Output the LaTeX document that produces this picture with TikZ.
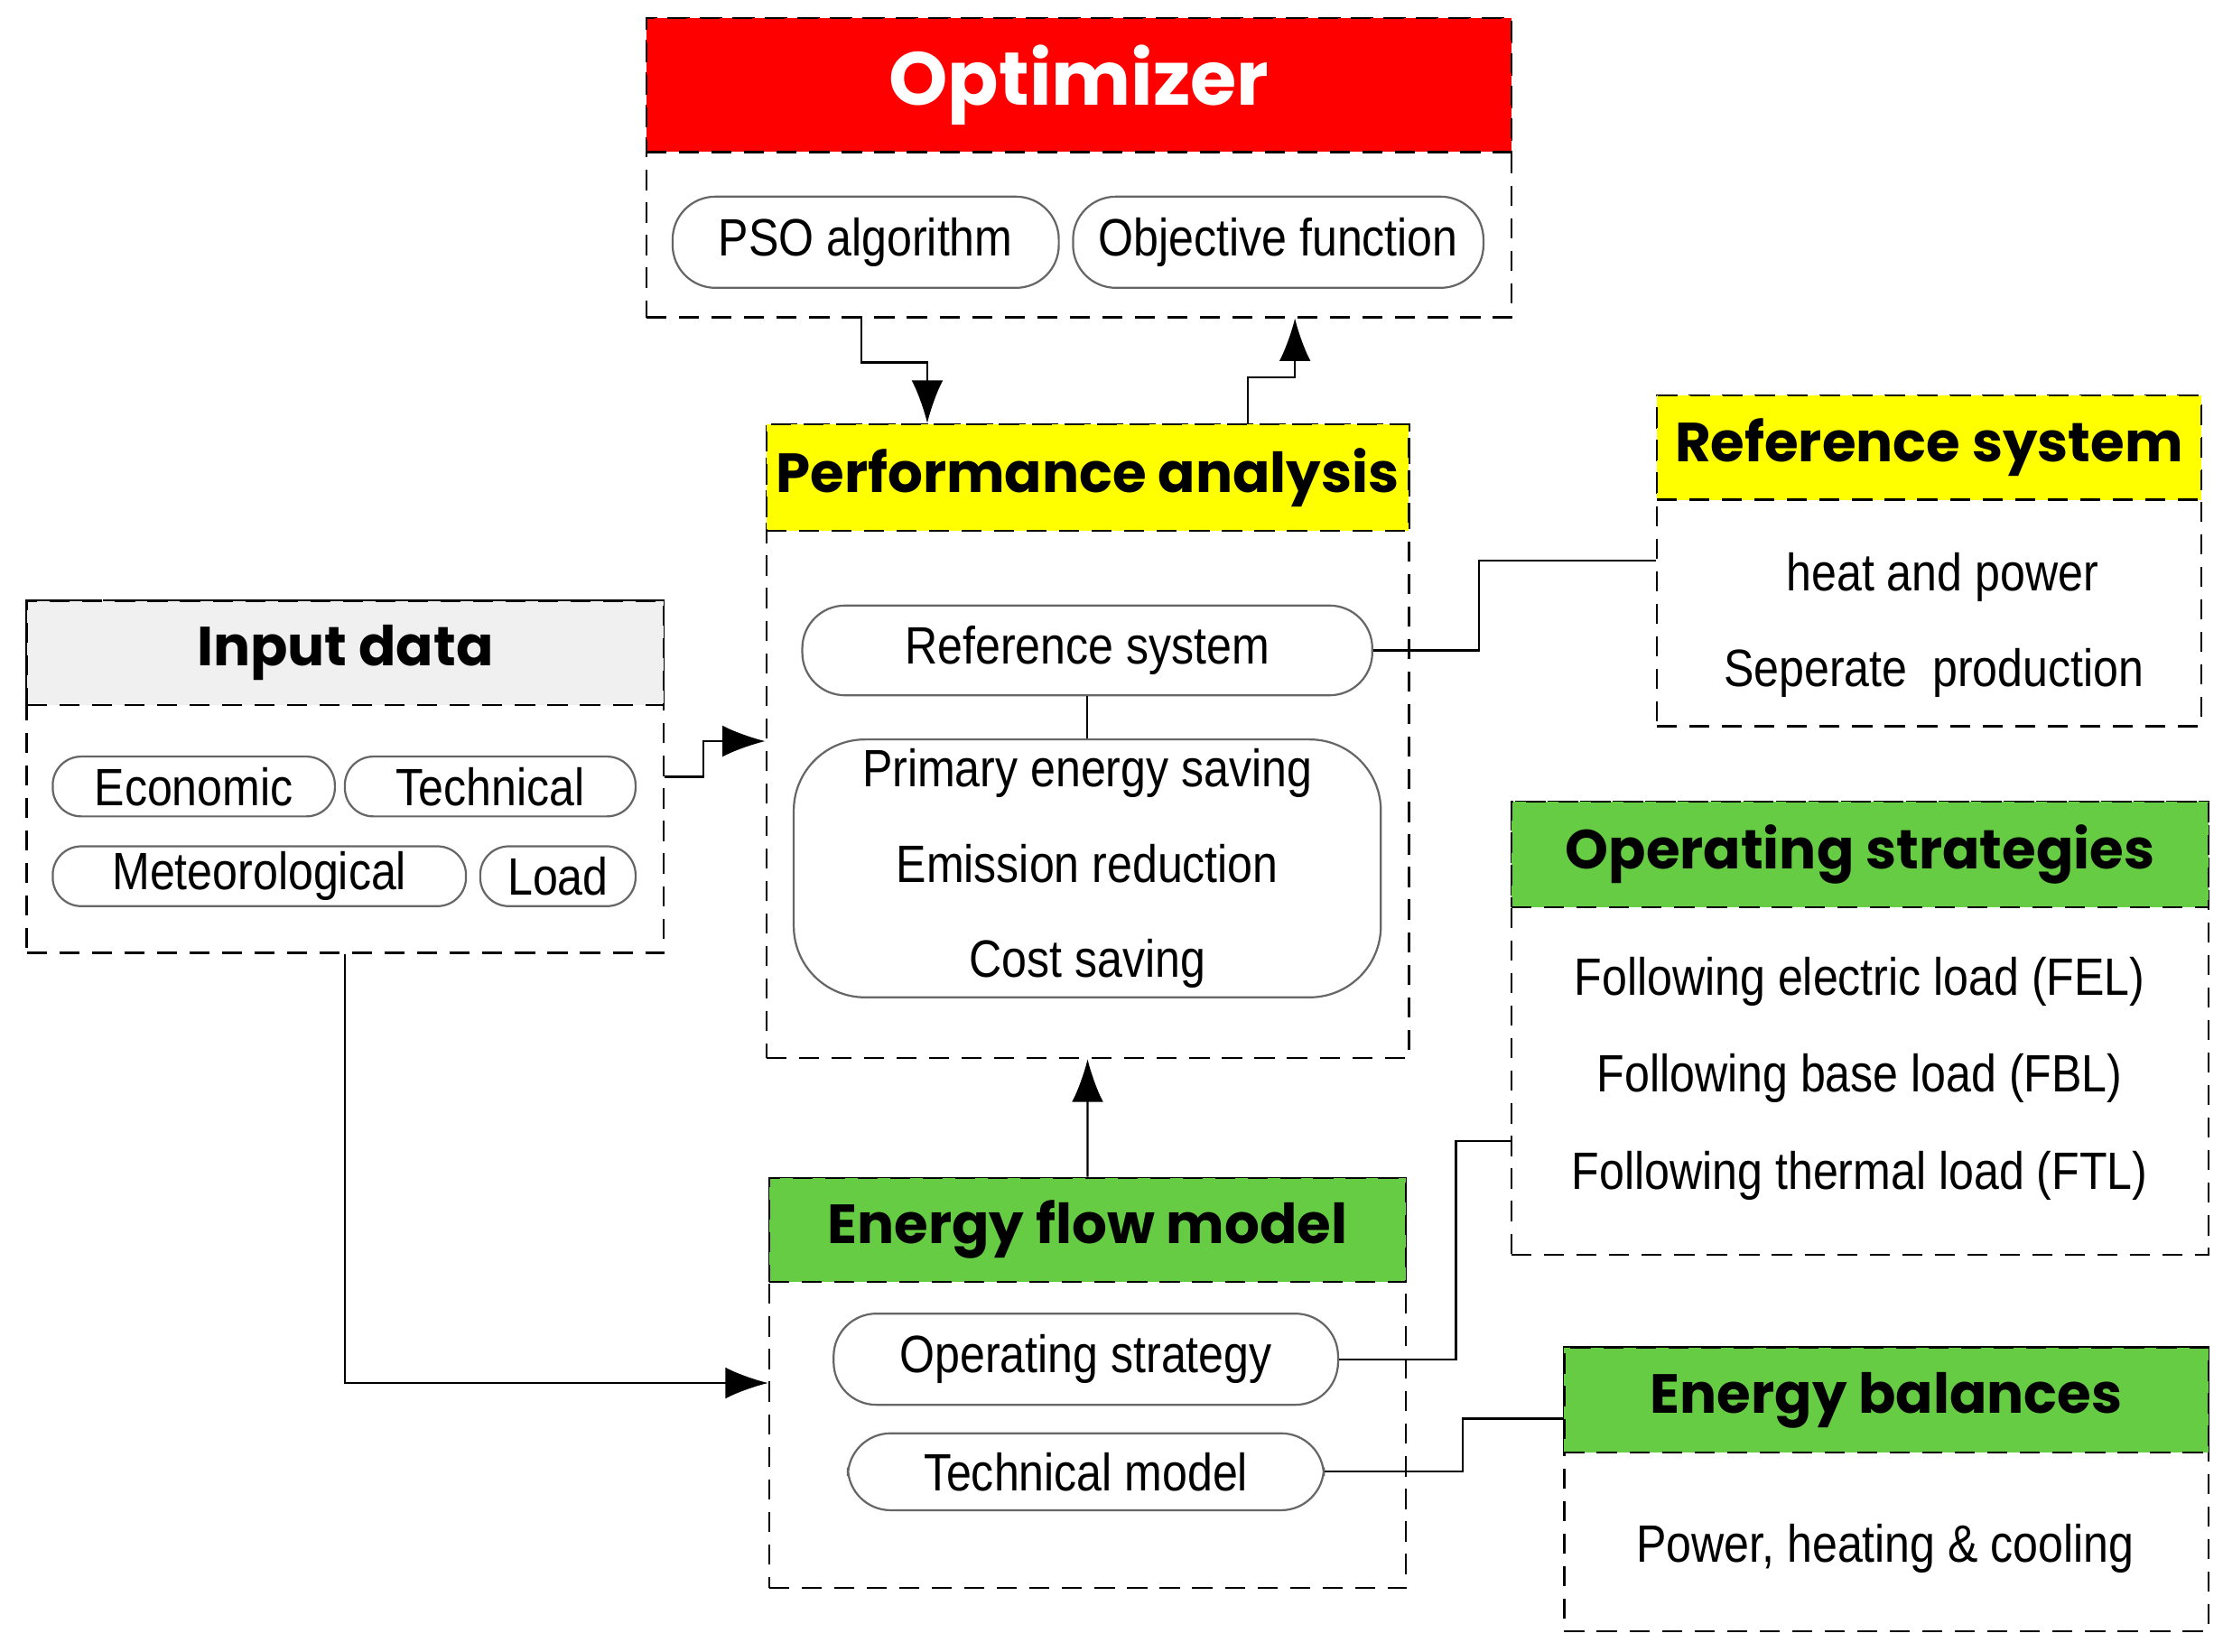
\documentclass[tikz,border=0pt]{standalone}
\usepackage{fontspec}
\setmainfont{Liberation Sans}[FakeStretch=0.86]
\newfontfamily\headfont{Poppins}[UprightFont=* Bold]
\usetikzlibrary{arrows.meta}
\definecolor{optred}{RGB}{255,0,0}
\definecolor{hyellow}{RGB}{255,255,0}
\definecolor{hgreen}{RGB}{102,204,68}
\tikzset{
  frame/.style={draw, dashed, dash pattern=on 4pt off 2.5pt, thin, inner sep=0, anchor=north west},
  head/.style={frame, font=\headfont\fontsize{11}{12}\selectfont},
  pill/.style={draw=black!60, thin, rounded corners=0.3cm, inner sep=0, font=\fontsize{10.5}{12}\selectfont},
  txt/.style={font=\fontsize{10.5}{12}\selectfont},
  link/.style={thin},
  arr/.style={thin, -{Latex[length=0.3cm, width=0.22cm]}}
}
\begin{document}
\begin{tikzpicture}
\useasboundingbox (0,0) rectangle (15.6,-11.59);
% optimizer
\node[frame, minimum width=6.07cm, minimum height=2.10cm] (opt) at (4.53,-0.12) {};
\node[head, fill=optred, text=white, minimum width=6.07cm, minimum height=0.94cm, font=\headfont\fontsize{15}{16}\selectfont] (optH) at (4.53,-0.12) {Optimizer};
\node[pill, minimum width=2.71cm, minimum height=0.64cm] (pso) at (6.075,-1.70) {PSO algorithm};
\node[pill, minimum width=2.88cm, minimum height=0.64cm] (obj) at (8.97,-1.70) {Objective function};
% performance analysis
\node[frame, minimum width=4.51cm, minimum height=4.45cm] (perf) at (5.37,-2.97) {};
\node[head, fill=hyellow, minimum width=4.51cm, minimum height=0.75cm] (perfH) at (5.37,-2.97) {Performance analysis};
\node[pill, minimum width=4.0cm, minimum height=0.63cm] (refpill) at (7.63,-4.565) {Reference system};
\node[pill, rounded corners=0.5cm, minimum width=4.12cm, minimum height=1.81cm, align=center, font=\fontsize{10.5}{19}\selectfont] (saving) at (7.63,-6.095) {Primary energy saving\\Emission reduction\\Cost saving};
% reference system
\node[frame, minimum width=3.82cm, minimum height=2.32cm] (refsys) at (11.62,-2.77) {};
\node[head, fill=hyellow, minimum width=3.82cm, minimum height=0.73cm] (refsysH) at (11.62,-2.77) {Reference system};
\node[txt] (heat) at (13.63,-4.05) {heat and power};
\node[txt] (sep) at (13.57,-4.72) {Seperate~~production};
% input data
\node[frame, minimum width=4.47cm, minimum height=2.47cm] (input) at (0.18,-4.21) {};
\node[head, fill=black!6, minimum width=4.47cm, minimum height=0.73cm] (inputH) at (0.18,-4.21) {Input data};
\node[pill, rounded corners=0.2cm, minimum width=1.98cm, minimum height=0.42cm] (eco) at (1.36,-5.52) {Economic};
\node[pill, rounded corners=0.2cm, minimum width=2.04cm, minimum height=0.42cm] (tech) at (3.44,-5.52) {Technical};
\node[pill, rounded corners=0.2cm, minimum width=2.90cm, minimum height=0.42cm] (met) at (1.82,-6.15) {Meteorological};
\node[pill, rounded corners=0.2cm, minimum width=1.09cm, minimum height=0.42cm] (load) at (3.915,-6.15) {Load};
% operating strategies
\node[frame, minimum width=4.89cm, minimum height=3.18cm] (ops) at (10.60,-5.62) {};
\node[head, fill=hgreen, minimum width=4.89cm, minimum height=0.74cm] (opsH) at (10.60,-5.62) {Operating strategies};
\node[txt] (fel) at (13.05,-6.89) {Following electric load (FEL)};
\node[txt] (fbl) at (13.05,-7.57) {Following base load (FBL)};
\node[txt] (ftl) at (13.05,-8.25) {Following thermal load (FTL)};
% energy flow model
\node[frame, minimum width=4.47cm, minimum height=2.88cm] (efm) at (5.39,-8.26) {};
\node[head, fill=hgreen, minimum width=4.47cm, minimum height=0.73cm] (efmH) at (5.39,-8.26) {Energy flow model};
\node[pill, minimum width=3.54cm, minimum height=0.64cm] (opstr) at (7.62,-9.54) {Operating strategy};
\node[pill, minimum width=3.34cm, minimum height=0.54cm] (techm) at (7.62,-10.33) {Technical model};
% energy balances
\node[frame, minimum width=4.52cm, minimum height=1.99cm] (eb) at (10.97,-9.45) {};
\node[head, fill=hgreen, minimum width=4.52cm, minimum height=0.74cm] (ebH) at (10.97,-9.45) {Energy balances};
\node[txt] (phc) at (13.23,-10.87) {Power, heating \& cooling};
% connectors
\draw[arr] ([xshift=-1.525cm]opt.south) -- ++(0,-0.31) -| ([xshift=-1.125cm]perf.north);
\draw[arr] ([xshift=1.125cm]perf.north) -- ++(0,0.32) -| ([xshift=1.515cm]opt.south);
\draw[link] (refpill.south) -- (saving.north);
\draw[link] (refpill.east) -- ++(0.74,0) |- (refsys.west);
\draw[arr] (input.east) -- ++(0.27,0) |- (perf.west);
\draw[arr] (input.south) |- (efm.west);
\draw[arr] (efm.north) -- (perf.south);
\draw[link] (opstr.east) -- ++(0.82,0) |- ([yshift=-0.79cm]ops.west);
\draw[link] (techm.east) -- ++(0.97,0) |- ([yshift=0.495cm]eb.west);
\end{tikzpicture}
\end{document}
